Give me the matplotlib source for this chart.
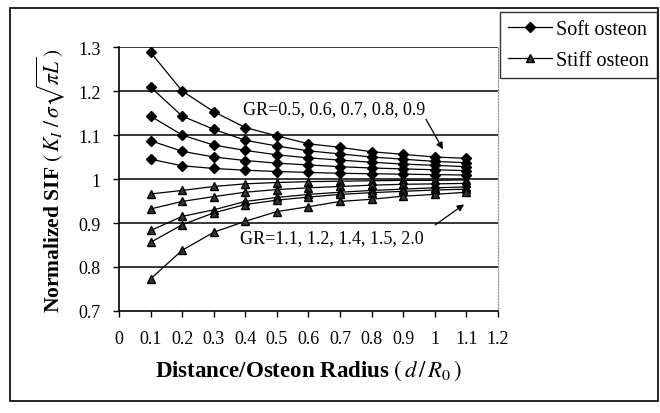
"""
Normalized SIF vs distance / osteon radius, soft and stiff osteons.
"""

import matplotlib
matplotlib.use('Agg')
import matplotlib.pyplot as plt
from matplotlib.patches import Rectangle

# ============== Data ==============
DIST = [0.1, 0.2, 0.3, 0.4, 0.5, 0.6, 0.7, 0.8, 0.9, 1.0, 1.1]

# Soft osteon, GR = 0.5, 0.6, 0.7, 0.8, 0.9
SOFT_GR05 = [1.288, 1.200, 1.153, 1.117, 1.098, 1.080, 1.072, 1.062, 1.056, 1.050, 1.047]
SOFT_GR06 = [1.209, 1.143, 1.113, 1.088, 1.075, 1.064, 1.057, 1.050, 1.045, 1.040, 1.037]
SOFT_GR07 = [1.143, 1.100, 1.077, 1.065, 1.055, 1.048, 1.043, 1.038, 1.034, 1.031, 1.028]
SOFT_GR08 = [1.087, 1.063, 1.050, 1.042, 1.036, 1.032, 1.028, 1.025, 1.023, 1.021, 1.019]
SOFT_GR09 = [1.045, 1.030, 1.024, 1.020, 1.017, 1.015, 1.013, 1.012, 1.011, 1.010, 1.009]

# Stiff osteon, GR = 1.1, 1.2, 1.4, 1.5, 2.0
STIFF_GR11 = [0.966, 0.974, 0.983, 0.989, 0.992, 0.994, 0.995, 0.996, 0.997, 0.997, 0.998]
STIFF_GR12 = [0.932, 0.949, 0.960, 0.970, 0.976, 0.980, 0.983, 0.986, 0.988, 0.989, 0.990]
STIFF_GR14 = [0.883, 0.915, 0.930, 0.949, 0.958, 0.965, 0.970, 0.974, 0.977, 0.980, 0.982]
STIFF_GR15 = [0.856, 0.896, 0.923, 0.942, 0.952, 0.959, 0.965, 0.969, 0.972, 0.975, 0.977]
STIFF_GR20 = [0.773, 0.838, 0.879, 0.904, 0.926, 0.937, 0.949, 0.954, 0.961, 0.965, 0.970]

X_TICKS = [0, 0.1, 0.2, 0.3, 0.4, 0.5, 0.6, 0.7, 0.8, 0.9, 1.0, 1.1, 1.2]
X_TICK_LABELS = ['0', '0.1', '0.2', '0.3', '0.4', '0.5', '0.6', '0.7', '0.8', '0.9', '1', '1.1', '1.2']
Y_TICKS = [0.7, 0.8, 0.9, 1.0, 1.1, 1.2, 1.3]
Y_TICK_LABELS = ['0.7', '0.8', '0.9', '1', '1.1', '1.2', '1.3']

SOFT_TEXT = 'GR=0.5, 0.6, 0.7, 0.8, 0.9'
STIFF_TEXT = 'GR=1.1, 1.2, 1.4, 1.5, 2.0'

# ============== Plot ==============
plt.rcParams['font.family'] = ['Liberation Serif', 'DejaVu Serif']
plt.rcParams['mathtext.fontset'] = 'stix'

fig = plt.figure(figsize=(6.6, 4.14), dpi=100)
ax = fig.add_axes([0.1803, 0.2464, 0.5742, 0.6376])

# horizontal gridlines
for yv in Y_TICKS[1:]:
    ax.axhline(yv, color='black', lw=1.1, zorder=1)

soft = [SOFT_GR05, SOFT_GR06, SOFT_GR07, SOFT_GR08, SOFT_GR09]
stiff = [STIFF_GR11, STIFF_GR12, STIFF_GR14, STIFF_GR15, STIFF_GR20]

for i, s in enumerate(soft):
    ax.plot(DIST, s, color='black', lw=0.9, marker='D', markersize=4.8,
            markerfacecolor='black', markeredgecolor='black',
            label='Soft osteon' if i == 0 else None, zorder=3)
for i, s in enumerate(stiff):
    ax.plot(DIST, s, color='black', lw=0.9, marker='^', markersize=6,
            markerfacecolor='#333333', markeredgecolor='black',
            label='Stiff osteon' if i == 0 else None, zorder=3)

ax.set_xlim(0, 1.2)
ax.set_ylim(0.7, 1.3)
ax.set_xticks(X_TICKS)
ax.set_xticklabels(X_TICK_LABELS)
ax.set_yticks(Y_TICKS)
ax.set_yticklabels(Y_TICK_LABELS)
ax.tick_params(direction='out', length=4, width=1, labelsize=13, colors='black')
ax.tick_params(axis='y', pad=9)
ax.tick_params(axis='x', pad=10)

ax.spines['left'].set_linewidth(1.2)
ax.spines['bottom'].set_linewidth(1.2)
ax.spines['top'].set_visible(False)
ax.spines['right'].set_color('#888888')
ax.spines['right'].set_linestyle(':')
ax.spines['right'].set_linewidth(0.8)

ax.set_ylabel(r'Normalized SIF $(\,K_I\ /\,\sigma\sqrt{\pi L}\,)$', fontsize=15.5,
              fontweight='bold', labelpad=8)
ax.set_xlabel(r'Distance/Osteon Radius $(\,d\,/\,R_0\,)$', fontsize=16.5,
              fontweight='bold', labelpad=7)

# annotations
ax.text(0.392, 1.161, SOFT_TEXT, fontsize=13, va='center', ha='left')
ax.annotate('', xy=(1.03, 1.062), xytext=(0.968, 1.141),
            arrowprops=dict(arrowstyle='-|>', color='black', lw=0.9, mutation_scale=10))
ax.text(0.383, 0.867, STIFF_TEXT, fontsize=13, va='center', ha='left')
ax.annotate('', xy=(1.10, 0.946), xytext=(0.994, 0.892),
            arrowprops=dict(arrowstyle='-|>', color='black', lw=0.9, mutation_scale=10))

# legend outside the plot area
leg = fig.legend(loc='upper right', bbox_to_anchor=(0.996, 0.968), fontsize=14.5,
                 frameon=True, fancybox=False, edgecolor='black', handlelength=2.2,
                 handletextpad=0.2, borderpad=0.4, labelspacing=0.55, borderaxespad=0)
leg.get_frame().set_linewidth(1.0)

# chart border
fig.add_artist(Rectangle((0.015, 0.029), 0.982, 0.949, transform=fig.transFigure,
                         fill=False, edgecolor='black', lw=1.2))

fig.savefig('out.png', dpi=100)
